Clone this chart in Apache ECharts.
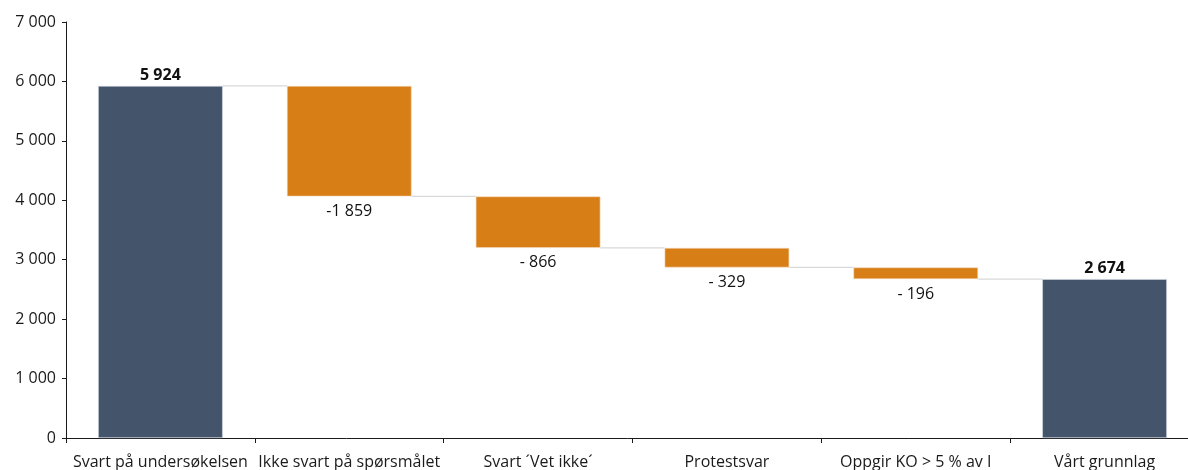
<!DOCTYPE html>
<html>
<head>
<meta charset="utf-8">
<script src="https://cdn.jsdelivr.net/npm/echarts@6/dist/echarts.min.js"></script>
<style>html,body{margin:0;padding:0;background:#fff}#c{width:1188px;height:470px}</style>
</head>
<body>
<div id="c"></div>
<script>
const categories = ["Svart på undersøkelsen", "Ikke svart på spørsmålet", "Svart \u00B4Vet ikke\u00B4", "Protestsvar", "Oppgir KO > 5 % av I", "Vårt grunnlag"];
const totals = [5924, null, null, null, null, 2674];
const deltas = [null, -1859, -866, -329, -196, null];
const labelTexts = ["5 924", "-1 859", "- 866", "- 329", "- 196", "2 674"];
const yTicks = [0, 1000, 2000, 3000, 4000, 5000, 6000, 7000];

// running levels
const levels = [];
let run = 0;
for (let i = 0; i < categories.length; i++) {
  if (totals[i] != null) run = totals[i]; else run += deltas[i];
  levels.push(run);
}
const base = categories.map((c, i) => totals[i] != null ? 0 : levels[i]);
const totalBars = categories.map((c, i) => totals[i] != null ? totals[i] : '-');
const deltaBars = categories.map((c, i) => deltas[i] != null ? -deltas[i] : '-');
const connectorData = levels.slice(0, -1).map((v, i) => [i, v]);

const font = '"Open Sans", "Noto Sans", sans-serif';
const chart = echarts.init(document.getElementById('c'), null, {renderer: 'canvas'});
chart.setOption({
  animation: false,
  grid: {left: 66, top: 22, bottom: 32, width: 1133, containLabel: false, outerBoundsMode: 'none'},
  xAxis: {
    type: 'category', data: categories,
    axisLine: {lineStyle: {color: '#1a1a1a', width: 1}},
    axisTick: {show: true, length: 5, lineStyle: {color: '#1a1a1a'}},
    axisLabel: {interval: 0, color: '#1a1a1a', fontFamily: font, fontSize: 16, margin: 16}
  },
  yAxis: {
    type: 'value', min: 0, max: 7000, interval: 1000,
    axisLine: {show: true, lineStyle: {color: '#1a1a1a'}},
    axisTick: {show: true, length: 4, lineStyle: {color: '#1a1a1a'}},
    splitLine: {show: false},
    axisLabel: {color: '#1a1a1a', fontFamily: font, fontSize: 16, margin: 10,
      formatter: v => yTicks.includes(v) ? String(v).replace(/\B(?=(\d{3})+(?!\d))/g, ' ') : ''}
  },
  series: [
    {type: 'bar', stack: 'w', data: base, barWidth: '66%', itemStyle: {color: 'transparent'}, silent: true},
    {type: 'bar', stack: 'w', data: totalBars, barWidth: '66%',
      itemStyle: {color: '#44546A', borderColor: '#D6DCE5', borderWidth: 0.6},
      label: {show: true, position: 'top', distance: 3, fontFamily: font, fontSize: 16, fontWeight: 'bold', color: '#111',
        formatter: p => labelTexts[p.dataIndex]}},
    {type: 'bar', stack: 'w', data: deltaBars, barWidth: '66%',
      itemStyle: {color: '#D87E17', borderColor: '#F5DCC0', borderWidth: 0.6},
      label: {show: true, position: 'bottom', distance: 7, fontFamily: font, fontSize: 16, color: '#111',
        formatter: p => labelTexts[p.dataIndex]}},
    {type: 'custom', data: connectorData, silent: true, z: 1,
      renderItem: function (params, api) {
        const i = api.value(0);
        const v = api.value(1);
        const p1 = api.coord([i, v]);
        const p2 = api.coord([i + 1, v]);
        const half = api.size([1, 0])[0] * 0.33;
        return {type: 'line', shape: {x1: p1[0] + half, y1: p1[1], x2: p2[0] - half, y2: p2[1]},
          style: {stroke: '#D9D9D9', lineWidth: 1.2}};
      }}
  ]
});
</script>
</body>
</html>
